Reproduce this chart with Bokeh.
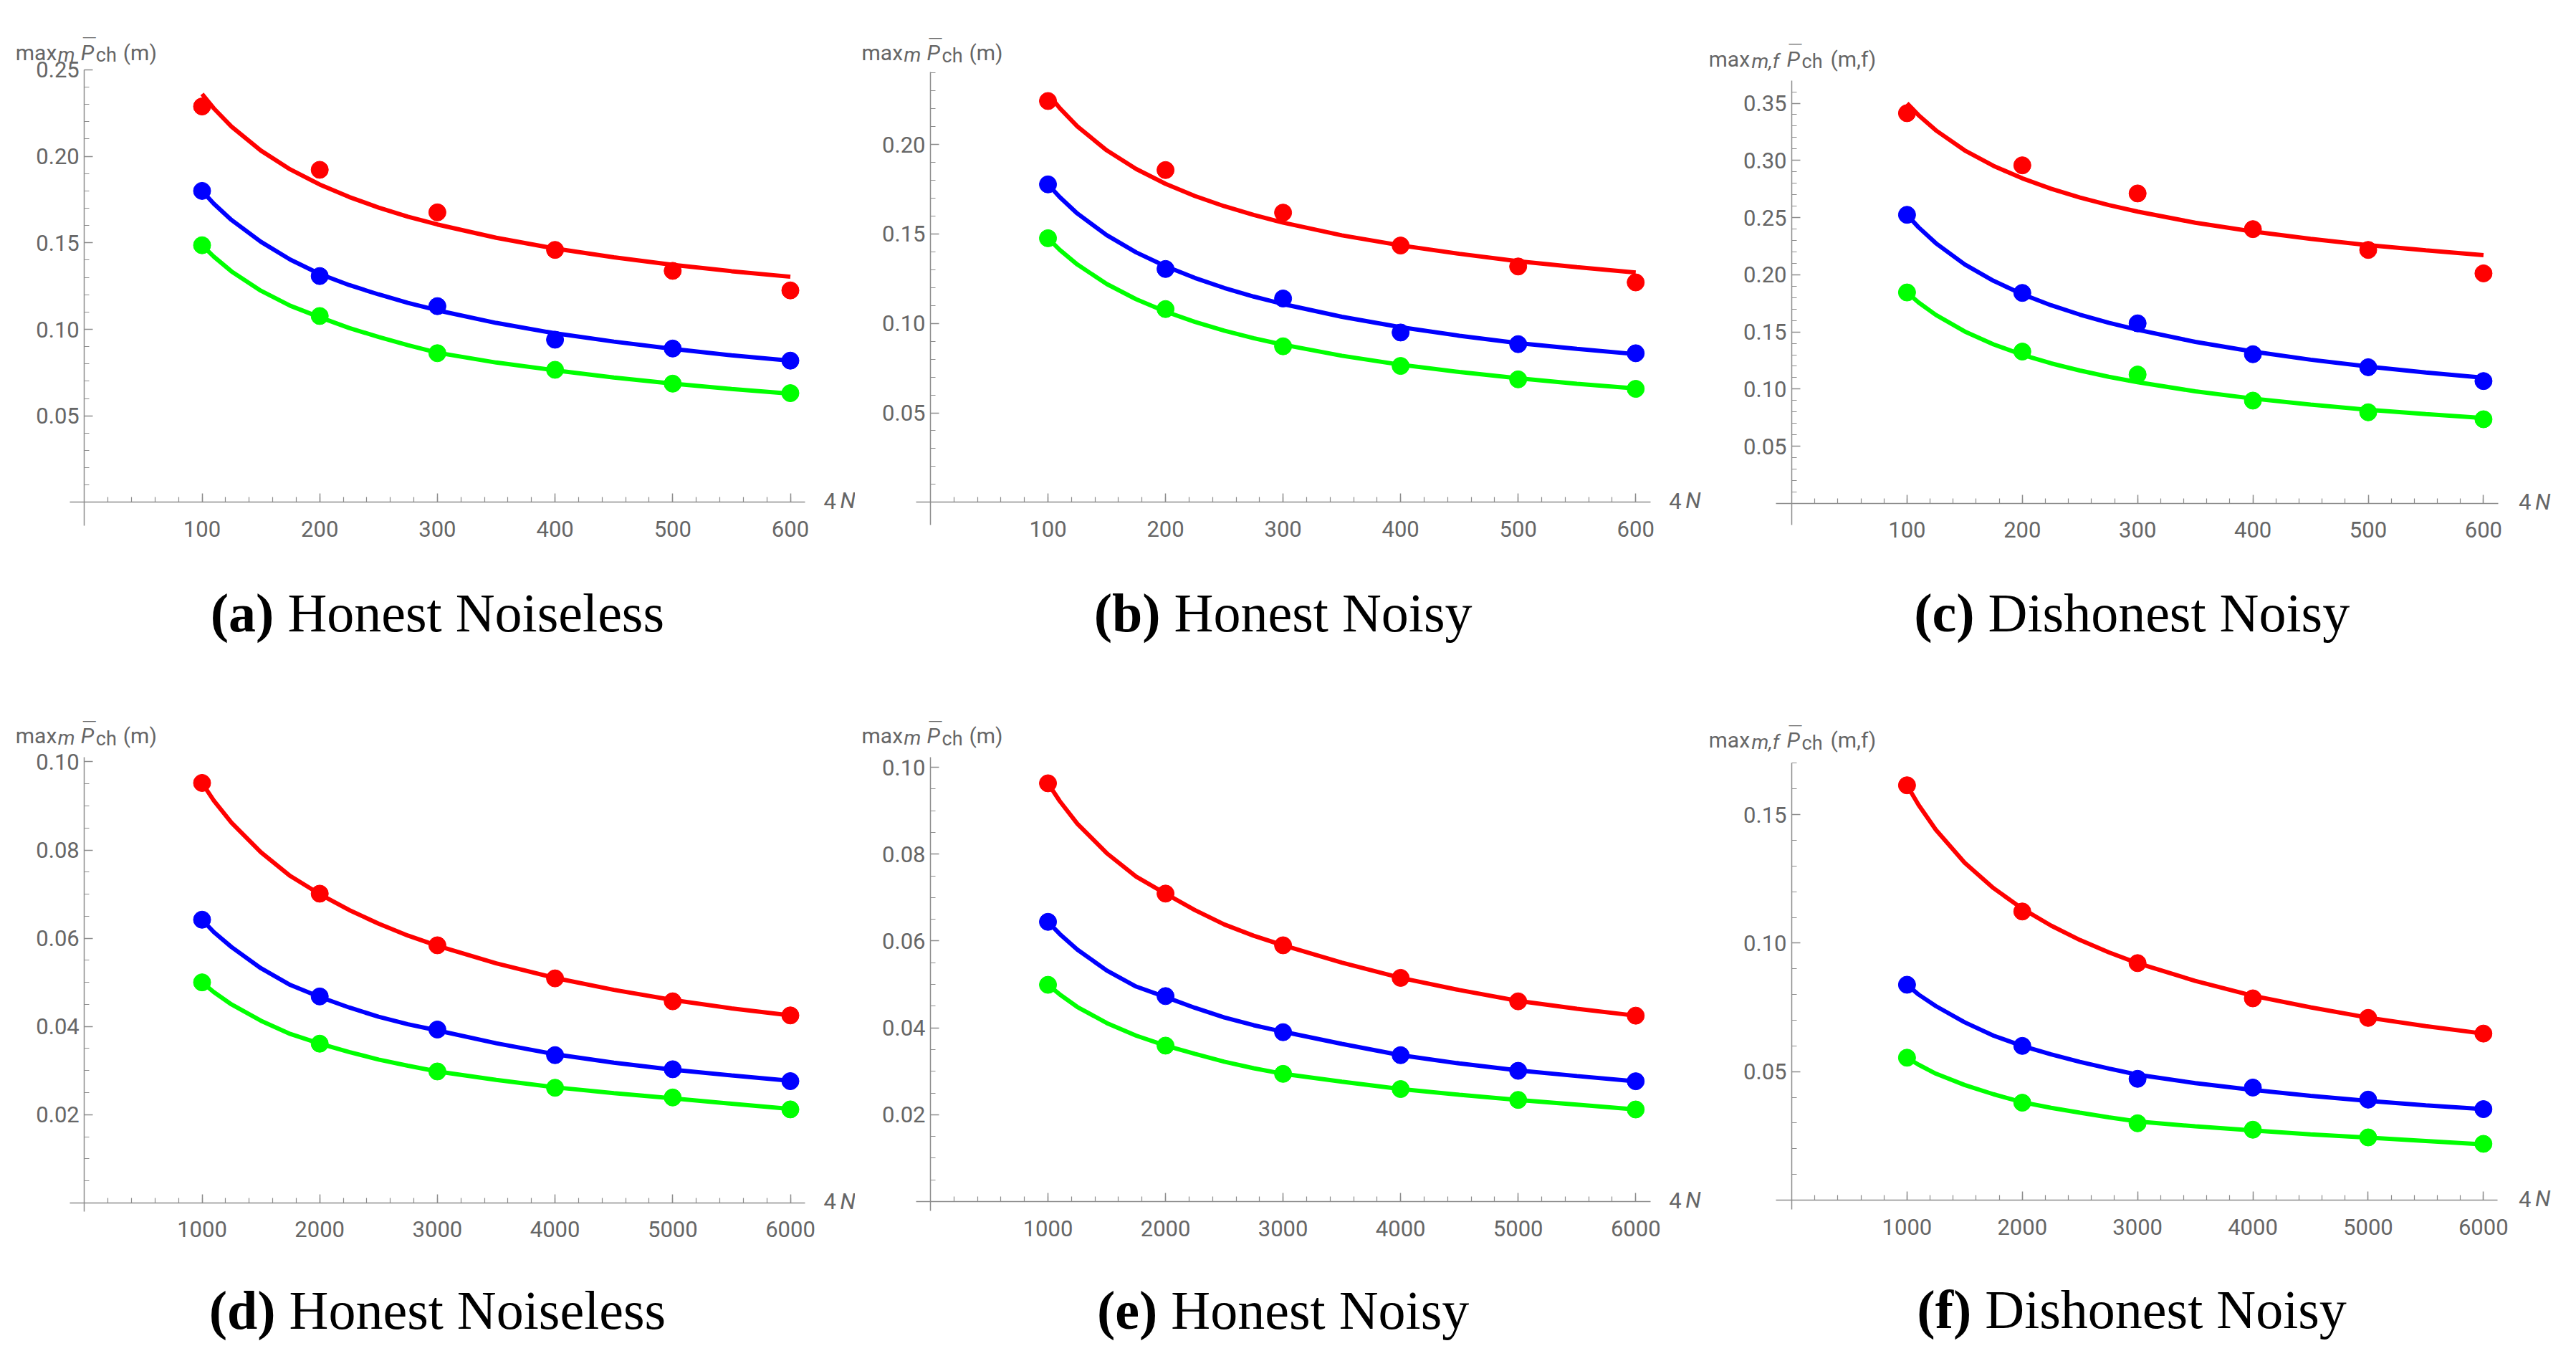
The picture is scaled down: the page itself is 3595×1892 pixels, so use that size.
from bokeh.plotting import figure
from bokeh.layouts import gridplot
from bokeh.models import Label, FixedTicker, NumeralTickFormatter, Range1d
from bokeh.embed import file_html
from bokeh.resources import INLINE

# ---------------- data ----------------
N_small = [100, 200, 300, 400, 500, 600]
N_small_fit = [100, 110, 125, 150, 175, 200, 225, 250, 275, 300, 350, 400, 450, 500, 550, 600]
N_large = [1000, 2000, 3000, 4000, 5000, 6000]
N_large_fit = [1000, 1100, 1250, 1500, 1750, 2000, 2250, 2500, 2750, 3000, 3500, 4000, 4500, 5000, 5500, 6000]

# (a) Honest Noiseless, small N
a_red = [0.2288, 0.1922, 0.1676, 0.1459, 0.1338, 0.1225]
a_blue = [0.1800, 0.1308, 0.1134, 0.0940, 0.0889, 0.0819]
a_green = [0.1486, 0.1077, 0.0862, 0.0766, 0.0686, 0.0631]
a_red_fit = [0.2360, 0.2277, 0.2172, 0.2033, 0.1924, 0.1837, 0.1765, 0.1704, 0.1651, 0.1606,
             0.1529, 0.1467, 0.1416, 0.1373, 0.1336, 0.1304]
a_blue_fit = [0.1800, 0.1726, 0.1632, 0.1506, 0.1403, 0.1320, 0.1256, 0.1202, 0.1153, 0.1110,
              0.1037, 0.0977, 0.0929, 0.0887, 0.0850, 0.0819]
a_green_fit = [0.1486, 0.1420, 0.1335, 0.1223, 0.1136, 0.1070, 0.1008, 0.0956, 0.0908, 0.0865,
               0.0808, 0.0763, 0.0721, 0.0686, 0.0655, 0.0628]

# (b) Honest Noisy, small N
b_red = [0.2243, 0.1857, 0.1619, 0.1435, 0.1318, 0.1229]
b_blue = [0.1777, 0.1304, 0.1139, 0.0949, 0.0884, 0.0833]
b_green = [0.1476, 0.1080, 0.0872, 0.0762, 0.0687, 0.0634]
b_red_fit = [0.2284, 0.2203, 0.2101, 0.1967, 0.1863, 0.1780, 0.1712, 0.1655, 0.1606, 0.1563,
             0.1492, 0.1436, 0.1389, 0.1347, 0.1314, 0.1284]
b_blue_fit = [0.1777, 0.1706, 0.1614, 0.1493, 0.1397, 0.1319, 0.1254, 0.1198, 0.1150, 0.1108,
              0.1037, 0.0979, 0.0931, 0.0890, 0.0858, 0.0828]
b_green_fit = [0.1476, 0.1411, 0.1329, 0.1220, 0.1135, 0.1066, 0.1008, 0.0959, 0.0917, 0.0881,
               0.0819, 0.0769, 0.0728, 0.0693, 0.0662, 0.0636]

# (c) Dishonest Noisy, small N
c_red = [0.3413, 0.2957, 0.2711, 0.2399, 0.2217, 0.2012]
c_blue = [0.2524, 0.1841, 0.1575, 0.1305, 0.1191, 0.1070]
c_green = [0.1845, 0.1328, 0.1127, 0.0899, 0.0797, 0.0736]
c_red_fit = [0.3500, 0.3396, 0.3263, 0.3088, 0.2952, 0.2843, 0.2752, 0.2675, 0.2609, 0.2552,
             0.2455, 0.2378, 0.2314, 0.2259, 0.2213, 0.2172]
c_blue_fit = [0.2524, 0.2415, 0.2276, 0.2091, 0.1947, 0.1830, 0.1733, 0.1651, 0.1580, 0.1519,
              0.1413, 0.1328, 0.1257, 0.1197, 0.1145, 0.1100]
c_green_fit = [0.1845, 0.1758, 0.1649, 0.1504, 0.1391, 0.1300, 0.1225, 0.1162, 0.1107, 0.1060,
               0.0980, 0.0917, 0.0864, 0.0819, 0.0781, 0.0747]

# (d) Honest Noiseless, large N
d_red = [0.0952, 0.0701, 0.0584, 0.0509, 0.0457, 0.0425]
d_blue = [0.0642, 0.0468, 0.0393, 0.0335, 0.0303, 0.0276]
d_green = [0.0500, 0.0361, 0.0298, 0.0261, 0.0239, 0.0212]
d_red_fit = [0.0952, 0.0912, 0.0862, 0.0795, 0.0741, 0.0700, 0.0664, 0.0633, 0.0606, 0.0583,
             0.0543, 0.0510, 0.0483, 0.0460, 0.0441, 0.0425]
d_blue_fit = [0.0642, 0.0614, 0.0580, 0.0532, 0.0494, 0.0467, 0.0443, 0.0422, 0.0405, 0.0391,
              0.0362, 0.0337, 0.0318, 0.0302, 0.0289, 0.0277]
d_green_fit = [0.0500, 0.0478, 0.0450, 0.0413, 0.0383, 0.0361, 0.0342, 0.0325, 0.0311, 0.0298,
               0.0279, 0.0262, 0.0249, 0.0237, 0.0225, 0.0213]

# (e) Honest Noisy, large N
e_red = [0.0963, 0.0709, 0.0590, 0.0515, 0.0461, 0.0428]
e_blue = [0.0644, 0.0473, 0.0390, 0.0337, 0.0301, 0.0277]
e_green = [0.0499, 0.0359, 0.0294, 0.0259, 0.0234, 0.0212]
e_red_fit = [0.0963, 0.0922, 0.0870, 0.0802, 0.0748, 0.0709, 0.0671, 0.0638, 0.0612, 0.0590,
             0.0550, 0.0515, 0.0487, 0.0462, 0.0444, 0.0428]
e_blue_fit = [0.0644, 0.0616, 0.0580, 0.0532, 0.0495, 0.0471, 0.0446, 0.0424, 0.0406, 0.0391,
              0.0363, 0.0337, 0.0318, 0.0302, 0.0289, 0.0277]
e_green_fit = [0.0499, 0.0477, 0.0448, 0.0411, 0.0382, 0.0359, 0.0340, 0.0322, 0.0307, 0.0294,
               0.0276, 0.0259, 0.0246, 0.0234, 0.0223, 0.0212]

# (f) Dishonest Noisy, large N
f_red = [0.1614, 0.1123, 0.0922, 0.0785, 0.0709, 0.0648]
f_blue = [0.0838, 0.0600, 0.0472, 0.0438, 0.0391, 0.0354]
f_green = [0.0554, 0.0379, 0.0299, 0.0274, 0.0244, 0.0219]
f_red_fit = [0.1614, 0.1538, 0.1441, 0.1313, 0.1214, 0.1134, 0.1068, 0.1012, 0.0964, 0.0922,
             0.0853, 0.0795, 0.0750, 0.0710, 0.0677, 0.0648]
f_blue_fit = [0.0838, 0.0800, 0.0755, 0.0692, 0.0640, 0.0600, 0.0567, 0.0538, 0.0512, 0.0488,
              0.0455, 0.0429, 0.0406, 0.0386, 0.0369, 0.0354]
f_green_fit = [0.0554, 0.0527, 0.0492, 0.0448, 0.0412, 0.0381, 0.0359, 0.0340, 0.0322, 0.0306,
               0.0287, 0.0271, 0.0256, 0.0243, 0.0230, 0.0217]

# tick labels / positions
x_major_small = [100, 200, 300, 400, 500, 600]
x_minor_small = [20 * i for i in range(1, 31)]
x_major_large = [1000, 2000, 3000, 4000, 5000, 6000]
x_minor_large = [200 * i for i in range(1, 31)]
y_major_a = [0.05, 0.10, 0.15, 0.20, 0.25]
y_major_b = [0.05, 0.10, 0.15, 0.20]
y_major_c = [0.05, 0.10, 0.15, 0.20, 0.25, 0.30, 0.35]
y_major_de = [0.02, 0.04, 0.06, 0.08, 0.10]
y_major_f = [0.05, 0.10, 0.15]

captions = {
    "a": ("(a)", "Honest Noiseless"),
    "b": ("(b)", "Honest Noisy"),
    "c": ("(c)", "Dishonest Noisy"),
    "d": ("(d)", "Honest Noiseless"),
    "e": ("(e)", "Honest Noisy"),
    "f": ("(f)", "Dishonest Noisy"),
}

# ---------------- styling ----------------
RED, BLUE, GREEN = "#ff0000", "#0000ff", "#00ff00"
AX_COLOR = "#8c8c8c"
TXT_COLOR = "#666666"
SANS = "Roboto"
SERIF = "Liberation Serif"
CAP_SIZE = 76
W = 1193


def add_label(p, text, x, y, dx, dy, size, style="normal", font=SANS, color=TXT_COLOR,
              align="left", baseline="alphabetic"):
    p.add_layout(Label(x=x, y=y, x_units="data", y_units="data", x_offset=dx, y_offset=dy,
                       text=text, text_font=font, text_font_size=f"{size}px",
                       text_font_style=style, text_color=color,
                       text_align=align, text_baseline=baseline))


def make_panel(key, h, X0, kx, Y0, ky, xb, yb, xmaj, xmin, ymaj, ymin,
               xs, xs_fit, series, kind, gap, cap_x, cap_dy, cap_widths, xlab_dx):
    # the frame fills the whole figure; X0/Y0 = pixel position of the origin
    xr = (-X0 / kx, (W - X0) / kx)
    yr = (-(h - Y0) / ky, Y0 / ky)
    p = figure(width=W, height=h, x_range=Range1d(*xr), y_range=Range1d(*yr),
               output_backend="svg", toolbar_location=None,
               min_border_left=0, min_border_right=0,
               min_border_top=0, min_border_bottom=0)
    p.outline_line_color = None
    p.grid.visible = False
    p.background_fill_color = "white"
    p.border_fill_color = "white"

    xa = p.xaxis[0]
    ya = p.yaxis[0]
    xa.fixed_location = 0
    ya.fixed_location = 0
    xa.bounds = xb
    ya.bounds = yb
    xa.ticker = FixedTicker(ticks=xmaj, minor_ticks=xmin)
    ya.ticker = FixedTicker(ticks=ymaj, minor_ticks=ymin)
    xa.formatter = NumeralTickFormatter(format="0")
    ya.formatter = NumeralTickFormatter(format="0.00")
    for ax in (xa, ya):
        ax.axis_line_color = AX_COLOR
        ax.axis_line_width = 1.5
        ax.major_tick_line_color = AX_COLOR
        ax.minor_tick_line_color = AX_COLOR
        ax.major_tick_line_width = 1.5
        ax.minor_tick_line_width = 1.2
        ax.major_tick_in = 12
        ax.major_tick_out = 0
        ax.minor_tick_in = 7
        ax.minor_tick_out = 0
        ax.major_label_text_font = SANS
        ax.major_label_text_font_size = "31px"
        ax.major_label_text_color = TXT_COLOR
    xa.major_label_standoff = 26
    ya.major_label_standoff = 7

    for color, pts, fit in series:
        p.line(xs_fit, fit, line_color=color, line_width=6)
    for color, pts, fit in series:
        p.scatter(xs, pts, marker="circle", size=24, fill_color=color, line_color=color)

    # y axis label: max_m P̄_ch (m)  or  max_{m,f} P̄_ch (m,f)
    ytop = yb[1]
    if kind == "m":
        o = dict(mx=-96, sub=-37, P=-5, bar=-3, ch=16, arg=54)
        sub_txt, arg_txt = "m", "(m)"
    else:
        o = dict(mx=-116, sub=-56, P=-7, bar=-5, ch=14, arg=54)
        sub_txt, arg_txt = "m,f", "(m,f)"
    add_label(p, "max", 0, ytop, o["mx"], gap, 30)
    add_label(p, sub_txt, 0, ytop, o["sub"], gap - 3, 28, style="italic")
    add_label(p, "P", 0, ytop, o["P"], gap, 30, style="italic")
    add_label(p, "\u2014", 0, ytop, o["bar"], gap + 22, 20, font="DejaVu Sans")
    add_label(p, "ch", 0, ytop, o["ch"], gap - 4, 27)
    add_label(p, arg_txt, 0, ytop, o["arg"], gap, 30)

    # x axis label: 4 N
    add_label(p, "4", xb[1], 0, xlab_dx, 2, 31, baseline="middle")
    add_label(p, "N", xb[1], 0, xlab_dx + 23, 2, 31, style="italic", baseline="middle")

    # caption: bold letter, a space, regular title
    bold_txt, rest_txt = captions[key]
    bw, sw, rw = cap_widths
    start = -(bw + sw + rw) / 2.0
    add_label(p, bold_txt, cap_x, yb[0], start, -cap_dy, CAP_SIZE, style="bold",
              font=SERIF, color="black")
    add_label(p, rest_txt, cap_x, yb[0], start + bw + sw, -cap_dy, CAP_SIZE,
              font=SERIF, color="black")
    return p


def tick_range(step, n):
    return [round(step * i, 4) for i in range(1, n + 1)]


s = CAP_SIZE / 1000.0
pa = make_panel("a", 937, 117.3, 1.642, 700.4, 2414, (-12.3, 612.5), (-0.0133, 0.25),
                x_major_small, x_minor_small, y_major_a, tick_range(0.01, 25),
                N_small, N_small_fit,
                [(RED, a_red, a_red_fit), (BLUE, a_blue, a_blue_fit), (GREEN, a_green, a_green_fit)],
                "m", 24, 300, 122, (1166 * s, 250 * s, 6916 * s), 26)
pb = make_panel("b", 937, 105.0, 1.6404, 700.3, 2496, (-11.9, 612.5), (-0.0129, 0.2405),
                x_major_small, x_minor_small, y_major_b, tick_range(0.01, 24),
                N_small, N_small_fit,
                [(RED, b_red, b_red_fit), (BLUE, b_blue, b_blue_fit), (GREEN, b_green, b_green_fit)],
                "m", 27, 300, 122, (1222 * s, 250 * s, 5472 * s), 26)
pc = make_panel("c", 937, 114.0, 1.609, 701.9, 1595.3, (-13.5, 612.5), (-0.0191, 0.3698),
                x_major_small, x_minor_small, y_major_c, tick_range(0.01, 36),
                N_small, N_small_fit,
                [(RED, c_red, c_red_fit), (BLUE, c_blue, c_blue_fit), (GREEN, c_green, c_green_fit)],
                "mf", 30, 295, 122, (1110 * s, 250 * s, 6639 * s), 29)
pd_ = make_panel("d", 939, 117.3, 0.1642, 740.9, 6155, (-123, 6125), (-0.0019, 0.1010),
                 x_major_large, x_minor_large, y_major_de, tick_range(0.005, 20),
                 N_large, N_large_fit,
                 [(RED, d_red, d_red_fit), (BLUE, d_blue, d_blue_fit), (GREEN, d_green, d_green_fit)],
                 "m", 30, 3000, 138, (1222 * s, 250 * s, 6916 * s), 26)
pe = make_panel("e", 939, 105.0, 0.16404, 739.0, 6060, (-119, 6125), (-0.0022, 0.1023),
                x_major_large, x_minor_large, y_major_de, tick_range(0.005, 20),
                N_large, N_large_fit,
                [(RED, e_red, e_red_fit), (BLUE, e_blue, e_blue_fit), (GREEN, e_green, e_green_fit)],
                "m", 30, 3000, 138, (1110 * s, 250 * s, 5472 * s), 26)
pf = make_panel("f", 939, 114.0, 0.16088, 737.0, 3586, (-135, 6125), (-0.0036, 0.1701),
                x_major_large, x_minor_large, y_major_f, tick_range(0.01, 17),
                N_large, N_large_fit,
                [(RED, f_red, f_red_fit), (BLUE, f_blue, f_blue_fit), (GREEN, f_green, f_green_fit)],
                "mf", 32, 2950, 140, (999 * s, 250 * s, 6639 * s), 29)

grid = gridplot([[pa, pb, pc], [pd_, pe, pf]], toolbar_location=None)

open("out.html", "w").write(file_html(grid, INLINE))
